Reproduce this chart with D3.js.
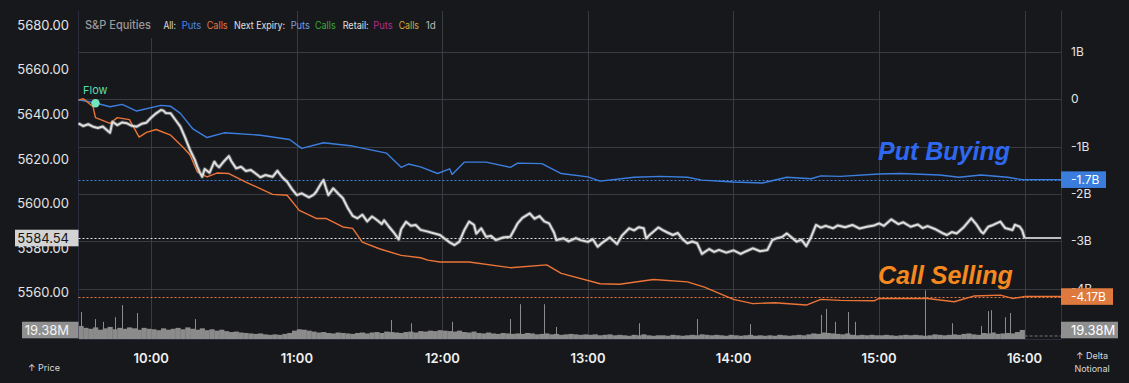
<!DOCTYPE html>
<html><head><meta charset="utf-8">
<script src="https://cdn.jsdelivr.net/npm/d3@7"></script>
<style>
html,body{margin:0;padding:0;background:#17181c;}
svg{display:block;font-family:Inter,"Noto Sans",sans-serif;}
</style></head><body>
<svg id="c" width="1129" height="383"></svg>
<script>
// ---------- DATA ----------
const priceTimes = ["09:30","09:32","09:34","09:36","09:38","09:40","09:42","09:43","09:44","09:46","09:48","09:50","09:52","09:54","09:56","09:58","10:00","10:02","10:04","10:05","10:06","10:08","10:10","10:12","10:14","10:16","10:18","10:19","10:20","10:21","10:22","10:24","10:26","10:27","10:28","10:30","10:32","10:33","10:35","10:37","10:39","10:41","10:43","10:45","10:47","10:50","10:52","10:54","10:56","10:58","11:00","11:02","11:05","11:07","11:08","11:10","11:11","11:12","11:13","11:15","11:17","11:19","11:21","11:23","11:25","11:27","11:29","11:31","11:33","11:35","11:36","11:38","11:40","11:42","11:43","11:45","11:47","11:49","11:51","11:54","11:56","11:59","12:01","12:03","12:05","12:07","12:09","12:11","12:13","12:14","12:16","12:18","12:20","12:22","12:25","12:28","12:30","12:31","12:33","12:36","12:38","12:40","12:42","12:44","12:46","12:47","12:50","12:52","12:55","12:57","13:00","13:02","13:04","13:06","13:09","13:12","13:14","13:17","13:19","13:21","13:23","13:24","13:26","13:29","13:31","13:33","13:35","13:37","13:39","13:41","13:43","13:45","13:47","13:50","13:52","13:54","13:57","14:00","14:03","14:05","14:08","14:11","14:14","14:16","14:18","14:20","14:22","14:24","14:26","14:28","14:30","14:32","14:34","14:36","14:38","14:41","14:43","14:46","14:49","14:52","14:55","14:58","15:00","15:02","15:05","15:08","15:10","15:13","15:16","15:18","15:20","15:23","15:26","15:28","15:30","15:32","15:35","15:38","15:40","15:42","15:43","15:45","15:47","15:50","15:52","15:55","15:56","15:58","15:59","16:00"];
const priceValues = [5636.0,5634.8,5635.6,5634.5,5633.9,5634.6,5632.7,5631.8,5636.7,5635.2,5636.4,5636.0,5634.9,5634.5,5635.8,5636.3,5638.6,5640.5,5642.0,5641.7,5640.6,5640.5,5637.5,5634.5,5629.5,5624.0,5619.5,5616.5,5614.0,5612.0,5615.5,5613.8,5618.8,5617.2,5616.3,5619.0,5621.3,5619.0,5615.8,5616.5,5614.6,5615.1,5613.5,5611.8,5612.8,5612.0,5614.7,5611.8,5609.8,5606.5,5603.8,5604.6,5602.8,5604.0,5605.3,5609.0,5610.6,5607.0,5603.8,5606.8,5604.5,5602.4,5598.0,5594.5,5593.4,5595.0,5592.0,5594.2,5592.6,5590.8,5592.5,5589.6,5587.0,5583.9,5588.5,5591.8,5590.0,5590.4,5588.2,5587.4,5586.8,5585.9,5584.2,5582.6,5581.4,5582.9,5588.0,5591.9,5590.5,5586.5,5588.9,5585.1,5585.5,5583.6,5584.8,5585.1,5589.0,5591.1,5593.6,5595.6,5593.2,5594.4,5592.0,5591.1,5587.0,5583.6,5584.4,5583.0,5584.5,5583.6,5582.8,5584.0,5580.6,5582.5,5584.8,5581.8,5585.6,5588.9,5588.0,5589.4,5588.9,5584.4,5586.5,5589.3,5588.0,5586.9,5585.9,5586.8,5584.0,5582.2,5583.0,5582.2,5577.4,5579.6,5578.3,5579.2,5578.0,5579.0,5577.4,5578.5,5579.9,5578.6,5579.2,5583.6,5584.5,5585.0,5586.6,5584.8,5582.9,5583.8,5580.9,5585.0,5590.4,5589.2,5590.0,5588.9,5590.2,5589.4,5590.4,5588.8,5589.6,5590.2,5591.1,5590.0,5592.9,5590.8,5591.6,5589.6,5590.6,5589.0,5589.9,5588.6,5586.8,5585.9,5587.2,5586.6,5589.5,5593.4,5590.8,5587.5,5586.6,5589.6,5590.4,5591.9,5589.0,5588.1,5590.5,5589.6,5588.0,5584.54];

const putsTimes = ["09:30","09:37","09:43","09:48","09:54","10:04","10:08","10:12","10:17","10:23","10:30","10:45","10:57","11:02","11:11","11:23","11:37","11:43","11:46","11:51","11:58","12:03","12:04","12:09","12:18","12:28","12:31","12:41","12:49","13:00","13:05","13:19","13:30","13:41","13:47","14:00","14:12","14:22","14:32","14:36","14:44","15:00","15:09","15:25","15:33","15:42","15:53","15:59","16:00"];
const putsValues = [-0.01,-0.08,-0.16,-0.11,-0.25,-0.13,-0.15,-0.30,-0.62,-0.81,-0.71,-0.76,-0.85,-1.04,-0.92,-0.99,-1.14,-1.44,-1.37,-1.43,-1.57,-1.47,-1.59,-1.33,-1.33,-1.44,-1.35,-1.36,-1.57,-1.64,-1.73,-1.65,-1.63,-1.65,-1.71,-1.75,-1.77,-1.65,-1.68,-1.62,-1.63,-1.58,-1.57,-1.60,-1.65,-1.60,-1.65,-1.70,-1.70];

const callsTimes = ["09:30","09:32","09:36","09:37","09:43","09:46","09:51","09:55","09:58","10:02","10:08","10:13","10:16","10:19","10:23","10:27","10:32","10:39","10:50","10:56","11:01","11:08","11:12","11:19","11:23","11:27","11:34","11:43","11:51","11:54","11:59","12:11","12:28","12:43","12:49","13:05","13:13","13:27","13:41","13:48","14:00","14:08","14:17","14:30","14:36","14:44","14:58","15:00","15:20","15:31","15:39","15:50","15:55","15:59","16:00"];
const callsValues = [-0.02,0.01,-0.16,-0.39,-0.51,-0.39,-0.43,-0.80,-0.70,-0.64,-0.76,-1.01,-1.18,-1.54,-1.64,-1.56,-1.57,-1.75,-2.01,-2.03,-2.35,-2.52,-2.52,-2.70,-2.73,-3.02,-3.16,-3.30,-3.35,-3.40,-3.44,-3.44,-3.56,-3.50,-3.68,-3.90,-3.91,-3.81,-3.86,-3.97,-4.23,-4.32,-4.30,-4.35,-4.23,-4.25,-4.26,-4.21,-4.21,-4.28,-4.16,-4.14,-4.21,-4.18,-4.17];

// volume in millions, 2-minute buckets from 09:30
const volumeStart = "09:30";
const volumeStepMinutes = 2;
const volumeValues = [
 28,24,22,25,20,23,26,21,24,22,25,23,20,24,22,
 21,19,23,20,22,24,21,25,22,20,23,19,21,18,20,
 17,15,16,14,13,12,11,12,10,9,10,9,11,13,18,
 21,20,18,16,14,15,13,12,14,13,12,11,13,14,12,
 14,15,13,16,15,14,13,15,16,14,17,16,18,17,19,
 18,17,16,18,15,14,16,13,12,14,12,11,13,12,11,
 12,11,13,12,10,11,12,10,11,9,10,11,10,9,10,
 9,10,8,9,10,8,9,8,7,9,8,10,8,7,8,
 8,7,9,8,7,8,9,8,10,9,8,9,8,7,9,
 8,7,8,9,7,8,7,8,7,9,8,7,8,9,8,
 10,12,11,14,13,12,11,10,12,9,8,9,8,9,8,
 8,9,8,7,8,9,8,9,8,7,8,10,9,8,9,
 10,9,11,12,10,9,13,12,14,11,12,13,12,15,19.38];
const spikeTimes = ["09:31","09:37","09:40","09:45","09:48","09:54","10:18","11:39","11:47","12:04","12:28","12:32","12:42","12:47","13:21","13:45","14:07","14:36","14:38","14:42","14:47","14:50","15:19","15:30","15:42","15:45","15:46","15:52","15:54"];
const spikeValues = [58,43,37,47,73,56,43,41,34,37,43,75,75,26,34,43,32,52,65,37,58,37,105,34,28,60,62,47,56];

const priceTicks = [5680,5660,5640,5620,5600,5580,5560];
const deltaTicks = [1,0,-1,-2,-3,-4];
const deltaTickLabels = ["1B","0","-1B","-2B","-3B","-4B"];
const hourTicks = ["10:00","11:00","12:00","13:00","14:00","15:00","16:00"];
const lastPrice = 5584.54, lastPuts = -1.7, lastCalls = -4.17, lastVolume = 19.38;
const flowTime = "09:37", flowValue = -0.085;
const legendLabels = ["S&P Equities","All:","Puts","Calls","Next Expiry:","Puts","Calls","Retail:","Puts","Calls","1d"];
const legendColors = ["#9a9a9a","#e0e0e0","#4a86e8","#e07a40","#e0e0e0","#7c9fe0","#3caa3c","#e0e0e0","#b52a92","#d5ae3e","#b8b8b8"];

// ---------- SETUP ----------
const parse = d3.timeParse("%H:%M");
const svg = d3.select("#c");
const L = 78.5, R = 1061, T = 11, B = 339;
const x = d3.scaleTime().domain([parse("09:30"), parse("16:15")]).range([L, R]);
const yP = d3.scaleLinear().domain([5680, 5560]).range([25.3, 292.7]);
const yR = d3.scaleLinear().domain([1, -4]).range([51.9, 288.5]);
const yV = d3.scaleLinear().domain([0, 100]).range([B, B - 46.4]);

svg.append("rect").attr("width",1129).attr("height",383).attr("fill","#17181c");

// grid
const g = svg.append("g");
g.selectAll("line.h").data(deltaTicks).join("line")
  .attr("x1",L).attr("x2",R).attr("y1",d=>Math.round(yR(d))+0.5).attr("y2",d=>Math.round(yR(d))+0.5)
  .attr("stroke","#3a3b40").attr("stroke-width",1);
g.selectAll("line.v").data(hourTicks).join("line")
  .attr("x1",d=>Math.round(x(parse(d)))+0.5).attr("x2",d=>Math.round(x(parse(d)))+0.5)
  .attr("y1",(d,i)=> i===0 ? 38 : T).attr("y2",B)
  .attr("stroke","#3a3b40").attr("stroke-width",1);

// volume
const vStart = parse(volumeStart);
const vg = svg.append("g");
vg.selectAll("rect").data(volumeValues).join("rect")
  .attr("x",(d,i)=>x(d3.timeMinute.offset(vStart,i*volumeStepMinutes)))
  .attr("width",(d,i)=>x(d3.timeMinute.offset(vStart,(i+1)*volumeStepMinutes))-x(d3.timeMinute.offset(vStart,i*volumeStepMinutes))+0.3)
  .attr("y",d=>yV(d)).attr("height",d=>yV(0)-yV(d))
  .attr("fill","#8b8b8b");
vg.selectAll("line").data(spikeValues).join("line")
  .attr("x1",(d,i)=>Math.round(x(parse(spikeTimes[i])))+0.5).attr("x2",(d,i)=>Math.round(x(parse(spikeTimes[i])))+0.5)
  .attr("y1",d=>yV(d)).attr("y2",yV(0))
  .attr("stroke","#8b8b8b").attr("stroke-width",1);
svg.append("line").attr("x1",x(parse("16:00"))).attr("x2",R).attr("y1",B-3).attr("y2",B-3)
  .attr("stroke","#777").attr("stroke-dasharray","3,2");

// frame
svg.append("line").attr("x1",L).attr("x2",L).attr("y1",T).attr("y2",B).attr("stroke","#2b2c40");
svg.append("line").attr("x1",R+0.5).attr("x2",R+0.5).attr("y1",T).attr("y2",B).attr("stroke","#33343f");
svg.append("line").attr("x1",L).attr("x2",R).attr("y1",B+0.5).attr("y2",B+0.5).attr("stroke","#2b2c40");

// legend box cover
svg.append("rect").attr("x",L+1).attr("y",T).attr("width",100).attr("height",27).attr("fill","#17181c");

// dotted reference lines
function hdash(y, color){
  svg.append("line").attr("x1",L).attr("x2",R).attr("y1",Math.round(y)+0.5).attr("y2",Math.round(y)+0.5)
    .attr("stroke",color).attr("stroke-width",1).attr("stroke-dasharray","2,2");
}
hdash(yR(lastPuts),"#3b7ddd");
hdash(yP(lastPrice),"#e0e0e0");
hdash(yR(lastCalls),"#e8773a");

// lines
const putsData = putsTimes.map((t,i)=>[parse(t),putsValues[i]]);
const callsData = callsTimes.map((t,i)=>[parse(t),callsValues[i]]);
const priceData = priceTimes.map((t,i)=>[parse(t),priceValues[i]]);
const flowLine = d3.line().x(d=>x(d[0])).y(d=>yR(d[1]));
svg.append("path").datum(putsData).attr("d",flowLine).attr("fill","none").attr("stroke","#3c7fe0").attr("stroke-width",1.4).attr("stroke-linejoin","round");
svg.append("path").datum(callsData).attr("d",flowLine).attr("fill","none").attr("stroke","#ec7436").attr("stroke-width",1.4).attr("stroke-linejoin","round");
const pLine = d3.line().x(d=>x(d[0])).y(d=>yP(d[1]));
svg.append("path").datum(priceData).attr("d",pLine).attr("fill","none").attr("stroke","#8f8f8f").attr("stroke-width",3.8).attr("stroke-opacity",0.55).attr("stroke-linejoin","round");
svg.append("path").datum(priceData).attr("d",pLine).attr("fill","none").attr("stroke","#dedede").attr("stroke-width",2).attr("stroke-linejoin","round");

// after-hours flats
const t16 = parse("16:00");
svg.append("line").attr("x1",x(t16)).attr("x2",R).attr("y1",yR(lastPuts)).attr("y2",yR(lastPuts)).attr("stroke","#3c7fe0").attr("stroke-width",1.4);
svg.append("line").attr("x1",x(t16)).attr("x2",R).attr("y1",yR(lastCalls)).attr("y2",yR(lastCalls)).attr("stroke","#ec7436").attr("stroke-width",1.4);
svg.append("line").attr("x1",x(t16)).attr("x2",R).attr("y1",yP(lastPrice)).attr("y2",yP(lastPrice)).attr("stroke","#bdbdbd").attr("stroke-width",2);

// flow marker
svg.append("circle").attr("cx",x(parse(flowTime))).attr("cy",yR(flowValue)).attr("r",4.2).attr("fill","#72e6bd");
svg.append("text").attr("x",83).attr("y",94).attr("fill","#5fdcae").attr("font-size",11).text("Flow");

// annotations
svg.append("text").attr("x",878).attr("y",160).attr("fill","#2f68f0").attr("font-size",25)
  .attr("font-weight","bold").attr("font-style","italic").attr("font-family","'Liberation Sans',Arial,sans-serif").text("Put Buying");
svg.append("text").attr("x",878).attr("y",284).attr("fill","#f5891f").attr("font-size",25)
  .attr("font-weight","bold").attr("font-style","italic").attr("font-family","'Liberation Sans',Arial,sans-serif").text("Call Selling");

// left axis
svg.append("g").selectAll("text").data(priceTicks).join("text")
  .attr("x",69).attr("y",d=>yP(d)).attr("dy","0.35em").attr("text-anchor","end")
  .attr("fill","#e4e4e4").attr("font-size",13).text(d=>d.toFixed(2));
// right axis
svg.append("g").selectAll("text").data(deltaTicks).join("text")
  .attr("x",1071).attr("y",d=>yR(d)).attr("dy","0.35em")
  .attr("fill","#e4e4e4").attr("font-size",12).text((d,i)=>deltaTickLabels[i]);

// value boxes
function box(x0,x1,yc,fill,txt,tx,anchor,tcolor,fs){
  svg.append("rect").attr("x",x0).attr("y",yc-8.3).attr("width",x1-x0).attr("height",16.6).attr("fill",fill);
  svg.append("text").attr("x",tx).attr("y",yc).attr("dy","0.35em").attr("text-anchor",anchor)
    .attr("fill",tcolor).attr("font-size",fs).text(txt);
}
box(15,78.5,yP(lastPrice),"#d3d3d3",lastPrice.toFixed(2),69,"end","#151515",13);
box(22,78.5,yV(lastVolume),"#8f8f8f",lastVolume.toFixed(2)+"M",69,"end","#f2f2f2",13);
box(1061,1106,yR(lastPuts),"#3b7ddd",lastPuts.toFixed(1)+"B",1071,"start","#ffffff",12);
box(1061,1113,yR(lastCalls),"#de7a3e",lastCalls.toFixed(2)+"B",1071,"start","#ffffff",12);
box(1061,1118,yV(lastVolume),"#8f8f8f",lastVolume.toFixed(2)+"M",1071,"start","#ffffff",13);

// time axis
svg.append("g").selectAll("text").data(hourTicks).join("text")
  .attr("x",d=>x(parse(d))).attr("y",358).attr("dy","0.35em").attr("text-anchor","middle")
  .attr("fill","#f0f0f0").attr("font-size",13).attr("font-weight",600).text(d=>d);
svg.append("text").attr("x",28).attr("y",368).attr("dy","0.35em").attr("fill","#d8d8d8").attr("font-size",9).text("↑ Price");
svg.append("text").attr("x",1092).attr("y",356).attr("dy","0.35em").attr("text-anchor","middle").attr("fill","#d8d8d8").attr("font-size",9).text("↑ Delta");
svg.append("text").attr("x",1092).attr("y",369).attr("dy","0.35em").attr("text-anchor","middle").attr("fill","#d8d8d8").attr("font-size",9).text("Notional");

// legend (positions / widths)
const legendX = [85,163.5,181.7,206.7,234,290.7,315,342.7,373.3,398.7,425.7];
const legendW = [66,12.3,19.7,21,51,19.3,20.7,26,19.3,20.3,10];
svg.append("g").selectAll("text").data(legendLabels).join("text")
  .attr("x",(d,i)=>legendX[i]).attr("y",25).attr("dy","0.35em")
  .attr("fill",(d,i)=>legendColors[i]).attr("font-size",(d,i)=>i===0?11.5:10)
  .attr("textLength",(d,i)=>legendW[i]).attr("lengthAdjust","spacingAndGlyphs")
  .attr("font-weight",(d,i)=>i===0?500:400).text(d=>d);
</script>
</body></html>
